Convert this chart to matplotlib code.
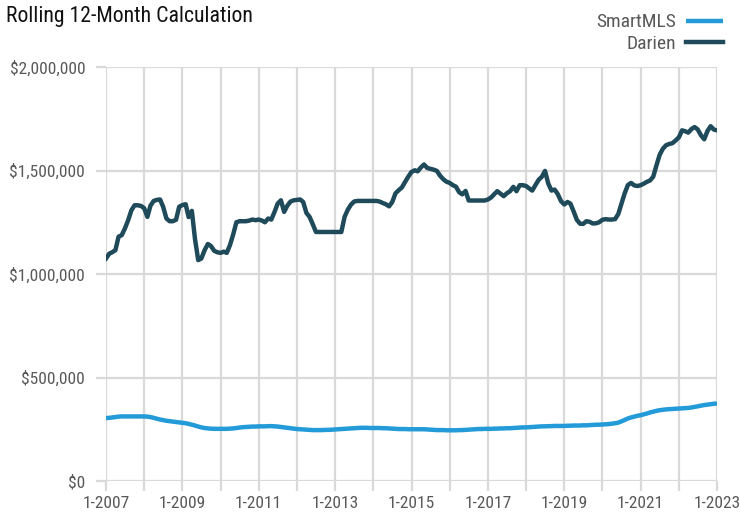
import matplotlib.pyplot as plt
import matplotlib.dates as mdates
import matplotlib.ticker as mticker
import pandas as pd

# Monthly points, Jan 2007 .. Jan 2023 (values in $ thousands)
months = pd.date_range("2007-01-01", periods=193, freq="MS")

darien = [
    1075, 1098, 1105, 1115, 1180, 1188, 1220, 1260, 1308, 1332, 1332, 1329,  # 2007
    1318, 1276, 1330, 1353, 1358, 1360, 1324, 1268, 1255, 1255, 1262, 1325,  # 2008
    1333, 1337, 1275, 1305, 1170, 1067, 1075, 1115, 1145, 1135, 1112, 1105,  # 2009
    1102, 1108, 1102, 1140, 1190, 1250, 1255, 1255, 1255, 1258, 1263, 1260,  # 2010
    1263, 1258, 1250, 1268, 1263, 1300, 1340, 1356, 1300, 1330, 1350, 1356,  # 2011
    1358, 1360, 1348, 1295, 1276, 1240, 1203, 1203, 1203, 1203, 1203, 1203,  # 2012
    1203, 1203, 1203, 1276, 1310, 1335, 1350, 1353, 1353, 1353, 1353, 1353,  # 2013
    1353, 1353, 1350, 1343, 1337, 1327, 1348, 1390, 1405, 1418, 1445, 1470,  # 2014
    1493, 1501, 1496, 1515, 1529, 1512, 1508, 1504, 1498, 1475, 1458, 1446,  # 2015
    1440, 1429, 1422, 1395, 1385, 1401, 1355, 1355, 1355, 1355, 1355, 1355,  # 2016
    1360, 1370, 1385, 1400, 1388, 1376, 1390, 1400, 1421, 1400, 1429, 1429,  # 2017
    1425, 1413, 1403, 1430, 1455, 1470, 1498, 1437, 1403, 1408, 1385, 1352,  # 2018
    1336, 1348, 1340, 1302, 1262, 1243, 1242, 1255, 1252, 1244, 1245, 1250,  # 2019
    1262, 1265, 1263, 1263, 1265, 1290, 1340, 1390, 1430, 1440, 1428, 1425,  # 2020
    1429, 1437, 1445, 1452, 1470, 1525, 1575, 1605, 1622, 1628, 1632, 1645,  # 2021
    1660, 1694, 1690, 1683, 1700, 1710, 1698, 1670, 1651, 1690, 1714, 1698,  # 2022
    1694,                                                                    # 2023
]

smartmls = [
    304, 305, 307, 309, 311, 312, 312, 312, 312, 312, 312, 312,
    312, 311, 309, 305, 301, 297, 294, 291, 289, 287, 285, 283,
    281, 279, 276, 272, 268, 263, 259, 256, 254, 253, 252, 252,
    252, 252, 252, 253, 254, 256, 258, 260, 261, 262, 263, 263,
    264, 264, 264, 265, 265, 264, 263, 261, 259, 257, 255, 253,
    251, 250, 249, 248, 247, 246, 246, 246, 246, 247, 247, 248,
    249, 250, 251, 252, 253, 254, 255, 256, 257, 257, 257, 256,
    256, 256, 256, 255, 255, 254, 253, 252, 251, 251, 251, 250,
    250, 250, 250, 250, 250, 249, 248, 247, 246, 246, 246, 245,
    245, 245, 245, 246, 246, 247, 248, 249, 250, 251, 251, 252,
    252, 252, 253, 253, 254, 254, 255, 255, 256, 257, 258, 259,
    259, 260, 261, 262, 263, 264, 264, 265, 265, 266, 266, 266,
    266, 267, 267, 268, 268, 268, 269, 269, 270, 271, 272, 272,
    273, 274, 275, 277, 279, 282, 288, 295, 302, 307, 311, 315,
    318, 322, 326, 331, 335, 339, 342, 344, 346, 347, 348, 349,
    350, 351, 352, 353, 355, 358, 361, 364, 367, 369, 371, 373,
    375,
]

y_ticks = [0, 500000, 1000000, 1500000, 2000000]

plt.rcParams["font.family"] = ["Roboto Condensed", "Liberation Sans", "DejaVu Sans"]

fig = plt.figure(figsize=(7.41, 5.15), dpi=100)
ax = fig.add_axes([106 / 741, 1 - 481 / 515, 611 / 741, 414 / 515])

grid_color = "#d9d9d9"
ax.plot(months, [v * 1000 for v in smartmls], color="#229bd8", lw=3.2, label="SmartMLS",
        solid_capstyle="butt", zorder=3)
ax.plot(months, [v * 1000 for v in darien], color="#1e4a5a", lw=3.2, label="Darien",
        solid_joinstyle="round", zorder=4)

ax.set_xlim(months[0], months[-1])
ax.set_ylim(0, 2000000)
ax.set_yticks(y_ticks)
ax.yaxis.set_major_formatter(mticker.FuncFormatter(lambda v, p: f"${v:,.0f}"))

ax.xaxis.set_major_locator(mdates.YearLocator(1))
ax.xaxis.set_major_formatter(
    mticker.FuncFormatter(lambda v, p: f"1-{mdates.num2date(v).year}"
                          if mdates.num2date(v).year % 2 == 1 else ""))

ax.grid(True, color=grid_color, lw=1.6)
for s in ax.spines.values():
    s.set_visible(False)
ax.tick_params(axis="both", colors=grid_color, width=1.6, length=7,
               labelcolor="#595959", labelsize=12.5)
ax.tick_params(axis="x", pad=4)
ax.tick_params(axis="y", pad=8)

fig.text(0.008, 0.988, "Rolling 12-Month Calculation", fontsize=15.7,
         color="#111111", va="top", ha="left")

fig.legend(loc="upper right", bbox_to_anchor=(0.999, 1.008), frameon=False,
           markerfirst=False, fontsize=14, labelcolor="#595959",
           handlelength=1.9, handletextpad=0.5, labelspacing=0.2)

fig.savefig("out.png", dpi=100)
